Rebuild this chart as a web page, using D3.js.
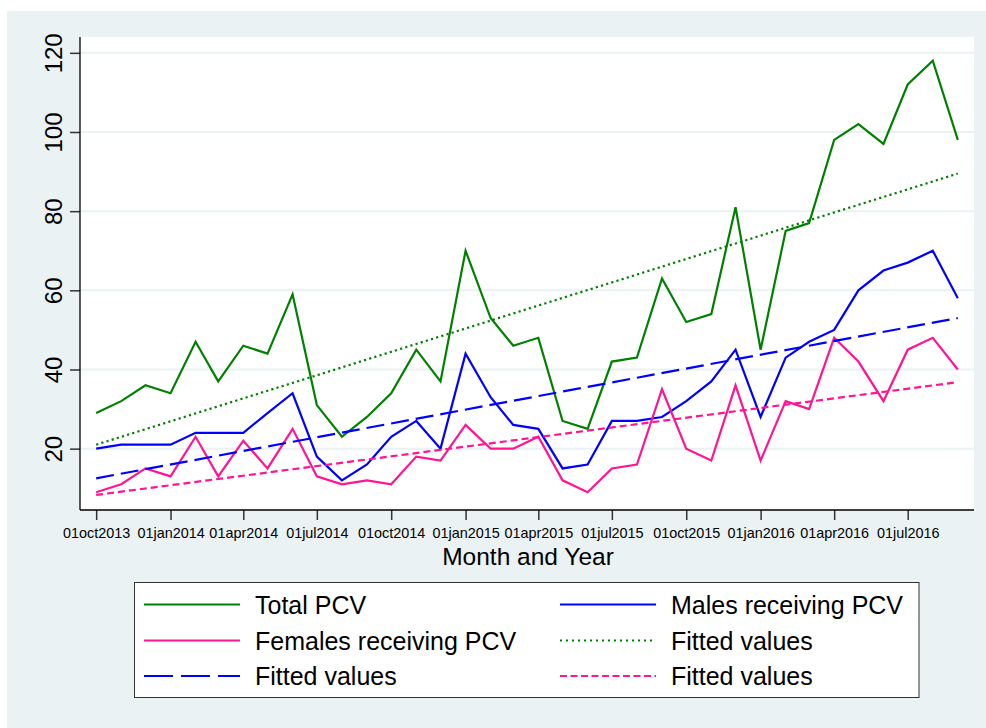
<!DOCTYPE html>
<html lang="en">
<head>
<meta charset="utf-8">
<title>PCV by month</title>
<script src="https://cdn.jsdelivr.net/npm/d3@7"></script>
<style>
  body { margin: 0; background: #fff; }
  svg { display: block; font-family: "Liberation Sans", Arial, sans-serif; }
</style>
</head>
<body>
<script>
// monthly data, Oct 2013 - Sep 2016
var months = ["2013-10","2013-11","2013-12","2014-01","2014-02","2014-03","2014-04","2014-05","2014-06",
              "2014-07","2014-08","2014-09","2014-10","2014-11","2014-12","2015-01","2015-02","2015-03",
              "2015-04","2015-05","2015-06","2015-07","2015-08","2015-09","2015-10","2015-11","2015-12",
              "2016-01","2016-02","2016-03","2016-04","2016-05","2016-06","2016-07","2016-08","2016-09"];
var totalPCV  = [29,32,36,34,47,37,46,44,59,31,23,28,34,45,37,70,53,46,48,27,25,42,43,63,52,54,81,45,75,77,98,102,97,112,118,98];
var malesPCV  = [20,21,21,21,24,24,24,29,34,18,12,16,23,27,20,44,33,26,25,15,16,27,27,28,32,37,45,28,43,47,50,60,65,67,70,58];
var femalesPCV = [9,11,15,13,23,13,22,15,25,13,11,12,11,18,17,26,20,20,23,12,9,15,16,35,20,17,36,17,32,30,48,42,32,45,48,40];
// fitted values at first and last month
var fitTotal   = [21, 89.5];
var fitMales   = [12.5, 53];
var fitFemales = [8.3, 36.8];
var tickDates = ["2013-10-01","2014-01-01","2014-04-01","2014-07-01","2014-10-01","2015-01-01","2015-04-01",
                 "2015-07-01","2015-10-01","2016-01-01","2016-04-01","2016-07-01"];
var yTicks = [20,40,60,80,100,120];

var W = 986, H = 728;
var plot = {left: 80, right: 974, top: 37, bottom: 510};

var parseMonth = d3.utcParse("%Y-%m");
var parseDay = d3.utcParse("%Y-%m-%d");
var dates = months.map(parseMonth);
var fmt = d3.utcFormat("%d%b%Y");

var svg = d3.select("body").append("svg").attr("width", W).attr("height", H);

svg.append("rect").attr("x", 7).attr("y", 11).attr("width", W - 7).attr("height", H - 11).attr("fill", "#eaf2f3");
svg.append("rect").attr("x", plot.left).attr("y", plot.top)
   .attr("width", plot.right - plot.left).attr("height", plot.bottom - plot.top).attr("fill", "#fff");

var x = d3.scaleUtc()
    .domain([d3.utcDay.offset(dates[0], -20), d3.utcDay.offset(dates[dates.length - 1], 20)])
    .range([plot.left, plot.right]);
var y = d3.scaleLinear().domain([4.5, 124]).range([plot.bottom, plot.top]);

// grid
svg.append("g").selectAll("line").data(yTicks).enter().append("line")
   .attr("x1", plot.left).attr("x2", plot.right)
   .attr("y1", function(d){ return y(d); }).attr("y2", function(d){ return y(d); })
   .attr("stroke", "#eaf2f3").attr("stroke-width", 2);

// y axis
var yAxis = svg.append("g").attr("transform", "translate(" + plot.left + ",0)")
   .call(d3.axisLeft(y).tickValues(yTicks).tickSize(10).tickSizeOuter(0).tickFormat(d3.format("d")));
yAxis.select(".domain").remove();
yAxis.selectAll(".tick line").attr("stroke", "#333").attr("stroke-width", 1.5);
yAxis.selectAll(".tick text")
   .attr("font-size", 24).attr("fill", "#000").attr("text-anchor", "middle")
   .attr("x", null).attr("dy", null)
   .attr("transform", "translate(-18,0) rotate(-90)");
svg.append("line").attr("x1", plot.left).attr("x2", plot.left).attr("y1", plot.top).attr("y2", plot.bottom)
   .attr("stroke", "#000").attr("stroke-width", 1.3);

// x axis
var xAxis = svg.append("g").attr("transform", "translate(0," + plot.bottom + ")")
   .call(d3.axisBottom(x).tickValues(tickDates.map(parseDay)).tickSize(10).tickSizeOuter(0)
        .tickFormat(function(d){ return fmt(d).toLowerCase(); }));
xAxis.select(".domain").remove();
xAxis.selectAll(".tick line").attr("stroke", "#333").attr("stroke-width", 1.5);
xAxis.selectAll(".tick text").attr("font-size", 14.4).attr("fill", "#000").attr("dy", null).attr("y", 27.5);
svg.append("line").attr("x1", plot.left).attr("x2", plot.right).attr("y1", plot.bottom).attr("y2", plot.bottom)
   .attr("stroke", "#000").attr("stroke-width", 1.3);

svg.append("text").attr("x", 528).attr("y", 565).attr("text-anchor", "middle")
   .attr("font-size", 24.5).text("Month and Year");

// lines
var line = d3.line().x(function(d){ return x(d[0]); }).y(function(d){ return y(d[1]); });
var ends = [dates[0], dates[dates.length - 1]];

var series = [
  {vals: totalPCV, dts: dates, color: "#008000", dash: null},
  {vals: malesPCV, dts: dates, color: "#0000ff", dash: null},
  {vals: femalesPCV, dts: dates, color: "#ff1493", dash: null},
  {vals: fitTotal, dts: ends, color: "#008000", dash: "2.2,3.2"},
  {vals: fitMales, dts: ends, color: "#0000ff", dash: "18,7"},
  {vals: fitFemales, dts: ends, color: "#ff1493", dash: "7,4"}
];
series.forEach(function(s){
  svg.append("path")
     .datum(s.vals.map(function(v, i){ return [s.dts[i], v]; }))
     .attr("d", line).attr("fill", "none")
     .attr("stroke", s.color).attr("stroke-width", 2.2)
     .attr("stroke-dasharray", s.dash);
});

// legend
var legendItems = [
  {label: "Total PCV", color: "#008000", dash: null},
  {label: "Males receiving PCV", color: "#0000ff", dash: null},
  {label: "Females receiving PCV", color: "#ff1493", dash: null},
  {label: "Fitted values", color: "#008000", dash: "2,4"},
  {label: "Fitted values", color: "#0000ff", dash: "29,8"},
  {label: "Fitted values", color: "#ff1493", dash: "7,3.5"}
];
svg.append("rect").attr("x", 134.5).attr("y", 582.5).attr("width", 784.5).attr("height", 115)
   .attr("fill", "#fff").attr("stroke", "#333").attr("stroke-width", 1);
var colX = [144, 560], rowY = [604.5, 640.5, 676];
var lg = svg.append("g").selectAll("g").data(legendItems).enter().append("g")
   .attr("transform", function(d, i){ return "translate(" + colX[i % 2] + "," + rowY[Math.floor(i / 2)] + ")"; });
lg.append("line").attr("x1", 0).attr("x2", 96).attr("y1", 0).attr("y2", 0)
   .attr("stroke", function(d){ return d.color; }).attr("stroke-width", 2.2)
   .attr("stroke-dasharray", function(d){ return d.dash; });
lg.append("text").attr("x", 111).attr("dy", "0.36em").attr("font-size", 25)
   .text(function(d){ return d.label; });
</script>
</body>
</html>
